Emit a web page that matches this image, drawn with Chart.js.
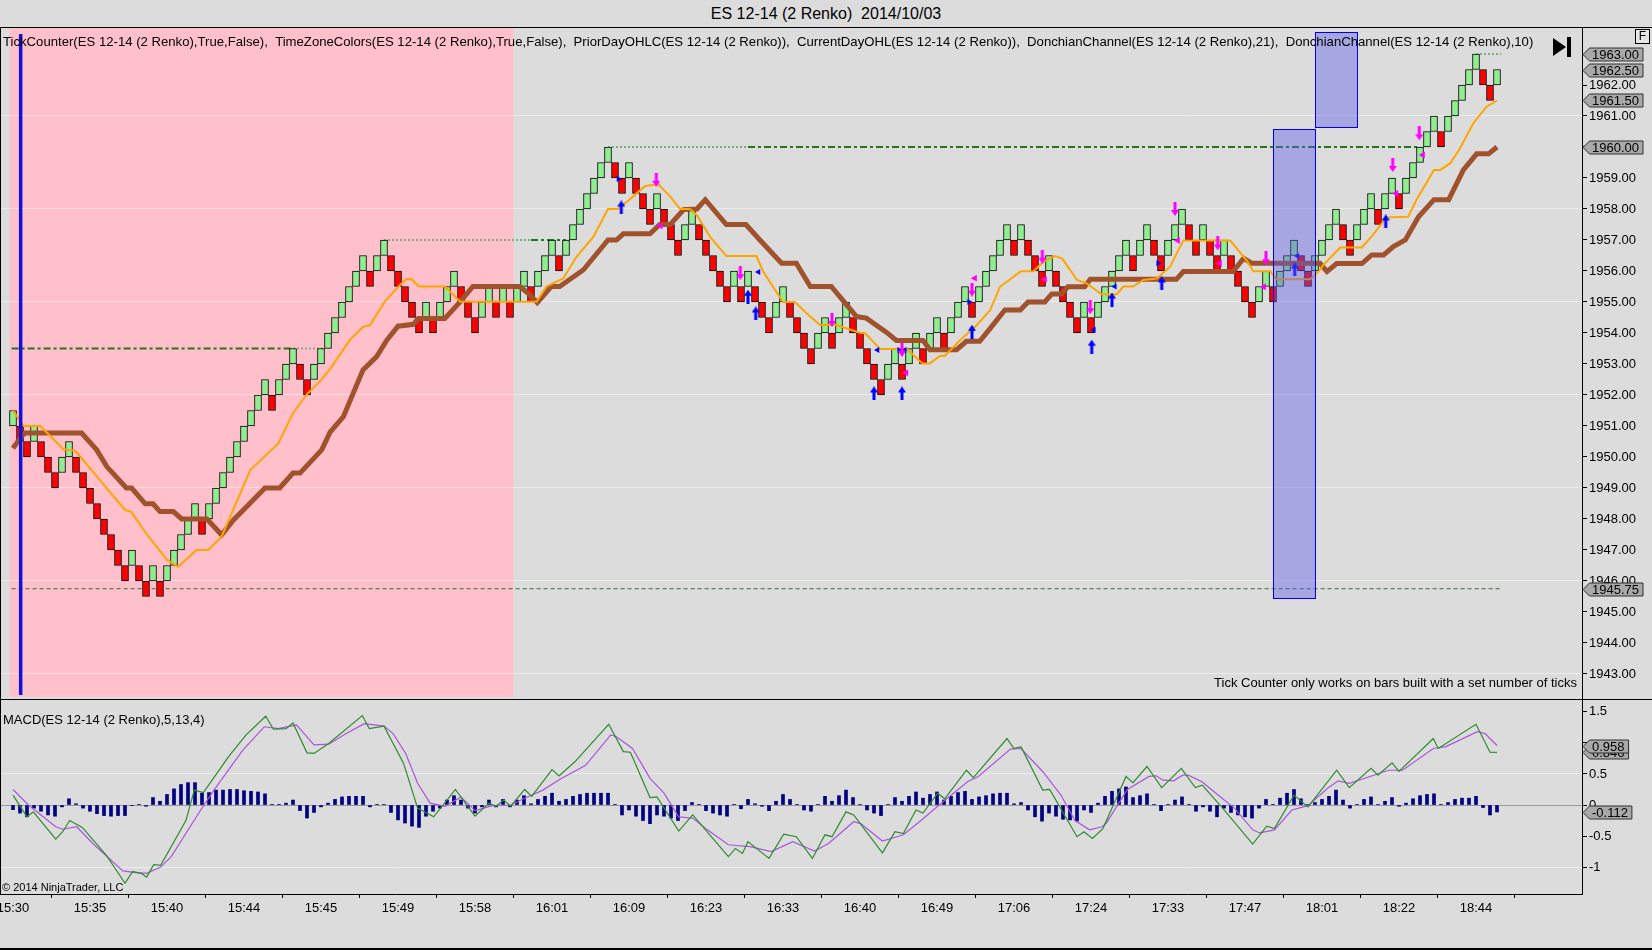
<!DOCTYPE html>
<html>
<head>
<meta charset="utf-8">
<script src="https://cdn.jsdelivr.net/npm/chart.js@4.4.1/dist/chart.umd.min.js"></script>
<style>
  body { margin: 0; background: #DCDCDC; width: 1652px; height: 950px; overflow: hidden; position: relative;
         font-family: 'Liberation Sans', Arial, sans-serif; }
  #title { position: absolute; left: 0; top: 0; width: 1652px; height: 27px; line-height: 27px;
           text-align: center; font-size: 16px; color: #000; }
  canvas { position: absolute; left: 0; }
</style>
</head>
<body>
<div id="title">ES 12-14 (2 Renko)&nbsp; 2014/10/03</div>
<canvas id="price" width="1652" height="673" style="top:27px"></canvas>
<canvas id="macd" width="1652" height="250" style="top:700px"></canvas>
<script>
// renko closes, one per bar (brick size 0.5)
const barCloses = [
  1951.5,1950.5,1950,1951,1950,1949.5,1949,1950,1950.5,1949.5,
  1949,1948.5,1948,1947.5,1947,1946.5,1946,1947,1946,1945.5,
  1946.5,1945.5,1946.5,1947,1947.5,1948,1948.5,1947.5,1948.5,1949,
  1949.5,1950,1950.5,1951,1951.5,1952,1952.5,1951.5,1952.5,1953,
  1953.5,1952.5,1952,1953,1953.5,1954,1954.5,1955,1955.5,1956,
  1956.5,1955.5,1956.5,1957,1956,1955.5,1955,1954.5,1954,1955,
  1954,1955,1955.5,1956,1955,1954.5,1954,1955,1955.5,1954.5,
  1955.5,1954.5,1955.5,1956,1955,1956,1956.5,1957,1956,1957,
  1957.5,1958,1958.5,1959,1959.5,1960,1959,1958.5,1959.5,1958.5,
  1958,1957.5,1958.5,1957.5,1957,1956.5,1957.5,1958,1957,1956.5,
  1956,1955.5,1955,1956,1955,1956,1955,1954.5,1954,1955,
  1955.5,1954.5,1954,1953.5,1953,1954,1954.5,1953.5,1954.5,1955,
  1954,1953.5,1953,1952.5,1952,1953,1953.5,1952.5,1953.5,1954,
  1953,1954,1954.5,1953.5,1954.5,1955,1955.5,1954.5,1955.5,1956,
  1956.5,1957,1957.5,1956.5,1957.5,1956.5,1956,1955.5,1956.5,1955.5,
  1955,1954.5,1954,1955,1954,1955,1955.5,1956,1956.5,1957,
  1956,1957,1957.5,1956.5,1956,1957,1957.5,1958,1957,1956.5,
  1957.5,1956.5,1956,1957,1956,1955.5,1955,1954.5,1955.5,1956,
  1955,1956,1956.5,1957,1956,1955.5,1956.5,1957,1957.5,1958,
  1957,1956.5,1957.5,1958,1958.5,1957.5,1958.5,1959,1958,1959,
  1959.5,1960,1960.5,1961,1960,1961,1961.5,1962,1962.5,1963,
  1962,1961.5,1962.5
];
const BRICK = 0.5;

// Donchian mid lines [bar, price]
const donchian10 = [
  [0,1951.5],[1.5,1951.0],[3.9,1951.0],[7.2,1950.25],[8.9,1950.2],[12.4,1949.26],[16,1948.29],[16.9,1948.23],
  [19,1947.54],[22,1946.68],[23.6,1946.46],[26.2,1947.0],[27.9,1947.0],[29.8,1947.43],[33.9,1949.58],[37.9,1950.44],
  [40,1951.41],[41.9,1952.0],[44,1952.48],[45.5,1952.9],[48.1,1953.77],[50,1954.2],[51,1954.25],[53.1,1955.01],
  [55.3,1955.55],[56.2,1955.74],[56.9,1955.74],[58,1955.5],[61.7,1955.5],[63.9,1955.01],[74.8,1955.01],[76.2,1955.5],
  [78.6,1955.76],[80.5,1956.46],[82.9,1957.1],[85,1958.0],[86.4,1958.0],[88,1958.29],[90.3,1958.74],[92.2,1958.8],
  [93.9,1958.4],[95.3,1958.0],[96.7,1958.0],[97.7,1957.8],[99.6,1957.1],[101.9,1956.48],[106.2,1956.48],[107.2,1955.97],
  [110,1955.0],[111.7,1955.0],[113.4,1954.63],[115.3,1954.26],[117.7,1954.26],[121,1954.0],[121.7,1954.0],[123.9,1953.48],
  [127.7,1953.48],[129.9,1953.02],[131,1953.02],[132.4,1953.26],[133.1,1953.26],[135.3,1953.77],[137.7,1954.26],[139.6,1954.74],
  [141,1955.49],[144,1955.99],[145.8,1955.99],[147.2,1956.3],[148.9,1956.48],[149.9,1956.4],[152,1955.71],[153.4,1955.6],
  [155.5,1955.25],[157.7,1955.25],[158.6,1955.5],[160,1955.5],[161.5,1955.71],[163.4,1955.76],[165.3,1956.14],[166.5,1956.68],
  [167.2,1956.98],[173.9,1956.98],[176.2,1956.35],[177.2,1955.99],[179.6,1955.99],[180.5,1955.73],[185.3,1955.73],[186.5,1955.98],
  [187.2,1956.2],[189.6,1956.76],[192.7,1956.76],[194.3,1957.17],[196.2,1957.73],[199.3,1957.75],[200.5,1958.3],[203,1959.26],
  [203.9,1959.26],[205.3,1959.47],[206.7,1959.95],[208.6,1960.76],[210.5,1961.3],[212,1961.5]
];
const donchian21 = [
  [0,1950.28],[1.2,1950.66],[1.7,1950.77],[9.8,1950.77],[11.95,1950.23],[13.4,1949.69],[16.2,1949.0],[16.95,1949.0],
  [18.9,1948.49],[20,1948.49],[21,1948.24],[22.9,1948.24],[24.1,1948.0],[27.7,1948.0],[29.8,1947.49],[31.5,1947.97],
  [36,1949.0],[38.1,1949.0],[40,1949.48],[41,1949.48],[44.1,1950.23],[45.3,1950.8],[47.2,1951.3],[50,1952.81],
  [51.95,1953.24],[53.4,1953.77],[55,1954.22],[57.2,1954.28],[57.9,1954.47],[61.7,1954.47],[63.9,1955.01],[65.7,1955.5],
  [72.4,1955.5],[73.6,1955.28],[74.9,1954.98],[76.9,1955.5],[78.1,1955.5],[81.5,1956.04],[85,1957.0],[86.2,1957.0],
  [87.2,1957.2],[91,1957.2],[92.4,1957.5],[93.9,1957.5],[95.8,1957.98],[97.7,1958.0],[98.9,1958.3],[101.9,1957.5],
  [104.7,1957.5],[106.7,1957.0],[109.8,1956.25],[111.9,1956.25],[113.9,1955.5],[116.9,1955.5],[120.5,1954.53],[121.9,1954.48],
  [124.8,1954.02],[126.2,1953.76],[130,1953.76],[131,1953.46],[134.8,1953.46],[136.2,1953.73],[138.1,1953.73],[139.6,1954.15],
  [141.7,1954.74],[143.9,1954.74],[145,1955.0],[147.4,1955.0],[148.4,1955.26],[149.8,1955.26],[150.7,1955.49],[153.1,1955.49],
  [153.9,1955.73],[166.2,1955.73],[167.2,1955.98],[174.3,1955.98],[175.8,1956.41],[176.95,1956.25],[186.7,1956.25],[187.7,1955.98],
  [189.1,1956.24],[192.7,1956.24],[194.1,1956.52],[195.8,1956.52],[197.2,1956.79],[198.9,1957.0],[200.8,1957.75],[203,1958.3],
  [205.1,1958.3],[207.2,1959.26],[209.1,1959.78],[210.8,1959.78],[212,1960.0]
];

// current day high / low segments [fromBar, toBar, price]
const dayHighDark = [[-0.2,40,1953.5],[74,79,1957],[105,201,1960]];
const dayHighLight = [[40,44.5,1953.5],[53,74,1957],[85,105,1960],[209,212.6,1963]];
const dayLow = [[-0.2,212.6,1945.75]];

// signal markers [bar, price]
const upArrows = [[86.9,1958.05],[105.0,1955.17],[106.1,1954.63],[123.0,1952.05],[127.0,1952.05],[137.0,1954.04],
  [154.1,1953.56],[157.0,1955.08],[164.1,1955.6],[183.1,1956.05],[196.1,1957.6]];
const downArrows = [[91.9,1958.94],[103.9,1955.93],[117.0,1954.42],[127.0,1953.45],[137.0,1955.4],[147.05,1956.46],
  [153.9,1954.83],[166.0,1958.0],[172.1,1956.89],[179.0,1956.41],[197.1,1959.42],[200.9,1960.44]];
const blueTriRight = [[86.5,1958.97],[126.6,1953.45],[136.6,1955.0],[163.6,1956.25]];
const blueTriLeft = [[106.5,1955.97],[123.5,1953.45],[127.4,1953.45],[154.4,1954.1],[157.4,1955.5],[183.5,1956.48]];
const magentaTri = [[92.5,1957.46],[127.6,1952.72],[137.4,1955.77],[147.4,1955.73],[166.4,1956.98],[172.4,1956.25],
  [178.7,1955.49],[197.6,1958.5],[201.4,1959.74]];

// tick counter boxes [fromBar, toBar, low, high]
const tickBoxes = [[180,186,1945.45,1960.57],[186,192,1960.64,1963.7]];
const sessionShade = [-0.5, 71.5];
const sessionLine = 1.06;

const priceTicks = [1943,1944,1945,1946,1947,1948,1949,1950,1951,1952,1953,1954,1955,1956,1957,1958,1959,1960,1961,1962,1963];
const priceGrid = [1943,1946,1949,1952,1955,1958,1961];
const priceFlags = [1963.00, 1962.50, 1961.50, 1960.00, 1945.75];

const timeTickBars = [0,11,22,33,44,55,66,77,88,99,110,121,132,143,154,165,176,187,198,209];
const timeLabels = ['15:30','15:35','15:40','15:44','15:45','15:49','15:58','16:01','16:09','16:23',
  '16:33','16:40','16:49','17:06','17:24','17:33','17:47','18:01','18:22','18:44'];

// MACD(5,13,4)
const macdLine = [
  [0,0.16],[2,-0.19],[2.9,-0.11],[6.1,-0.55],[7.1,-0.43],[8.1,-0.25],[9.9,-0.36],[13.4,-0.82],[16,-1.26],[17.1,-1.07],
  [18.3,-1.1],[19.1,-1.16],[20.1,-0.96],[21.1,-0.97],[24.7,-0.25],[25.9,0.24],[27.2,0.2],[30.8,0.78],[33.3,1.13],[36.1,1.43],
  [37.2,1.22],[39,1.23],[40,1.32],[42,0.84],[43,0.83],[45.1,0.99],[49.9,1.44],[50.9,1.23],[53,1.27],[55.8,0.67],
  [57.8,-0.05],[60.1,-0.19],[63.2,0.25],[66,-0.18],[68,0.03],[69,-0.02],[70.1,0.08],[71.1,-0.02],[73.1,0.25],[74.1,0.14],
  [77,0.57],[78,0.47],[80.3,0.7],[85.1,1.3],[87.2,0.86],[88.2,0.85],[91,0.12],[92,0.13],[95.1,-0.42],[97.1,-0.16],
  [102.2,-0.83],[103.2,-0.7],[104.2,-0.78],[105,-0.59],[108,-0.86],[110.1,-0.47],[111.9,-0.51],[114.2,-0.86],[116,-0.48],[117,-0.51],
  [119,-0.11],[120.1,-0.16],[124.2,-0.77],[126,-0.43],[127.2,-0.46],[129,-0.08],[130,-0.13],[132.1,0.19],[133.1,0.1],[136.2,0.56],
  [137.2,0.44],[142,1.07],[143,0.91],[144,0.94],[147.1,0.24],[148.1,0.25],[152,-0.51],[153,-0.43],[154.2,-0.54],[155.7,-0.38],
  [159,0.46],[160,0.36],[162,0.62],[164.1,0.28],[166.9,0.59],[168.9,0.28],[169.9,0.32],[172.8,-0.05],[177.1,-0.63],[179.1,-0.34],
  [180.2,-0.38],[183,0.16],[185,-0.03],[189.1,0.56],[190.9,0.28],[194,0.59],[195,0.48],[197,0.68],[198,0.54],[202.9,1.07],
  [203.6,0.91],[209,1.3],[211,0.85],[212,0.846]
];
const macdAvg = [
  [0,0.25],[2.2,0.0],[6.1,-0.35],[7.1,-0.39],[9.1,-0.35],[11.4,-0.62],[15.7,-1.06],[17.5,-1.09],[19.1,-1.1],[21.1,-1.0],
  [22.6,-0.83],[26.7,-0.1],[28.7,0.24],[32.8,0.88],[35.9,1.26],[37.9,1.23],[40.5,1.29],[43,0.97],[45.1,0.98],[47.6,1.15],
  [50.2,1.31],[53,1.27],[54.3,1.15],[56.1,0.83],[57.8,0.35],[59.6,0.03],[61.7,-0.02],[64,0.13],[66,-0.09],[68.5,-0.01],
  [71.1,0.0],[73.1,0.11],[75.7,0.24],[78.2,0.42],[81.8,0.64],[85.4,1.13],[86.2,1.1],[88.5,0.91],[91,0.43],[93,0.19],
  [95.1,-0.19],[97.1,-0.21],[99.2,-0.4],[102.2,-0.64],[105.3,-0.67],[108.3,-0.75],[111.4,-0.59],[114.5,-0.74],[116.5,-0.62],[120.1,-0.27],
  [121.1,-0.3],[124.2,-0.58],[127.2,-0.48],[129.8,-0.24],[132.3,0.0],[136.4,0.38],[137.9,0.46],[142.5,0.9],[144,0.91],[147.1,0.54],
  [149.7,0.16],[151.7,-0.25],[153.8,-0.4],[155.6,-0.35],[156.2,-0.29],[159.2,0.25],[162.3,0.46],[163.3,0.47],[164.3,0.4],[165.8,0.39],
  [167.1,0.48],[167.9,0.48],[169.9,0.37],[172.5,0.13],[174.5,-0.05],[177.1,-0.4],[178.1,-0.45],[180.2,-0.4],[182.7,-0.08],[185,-0.01],
  [187.8,0.27],[189.3,0.39],[190.9,0.35],[194.4,0.48],[196.5,0.56],[198.5,0.56],[202.9,0.91],[204.7,0.94],[209.2,1.18],[210.3,1.15],
  [212,0.958]
];
const macdHist = [
  -0.075,-0.13,-0.19,-0.05,-0.1,-0.16,-0.18,-0.03,0.1,0.02,
  -0.05,-0.1,-0.14,-0.17,-0.18,-0.17,-0.17,-0.01,0.01,-0.02,
  0.12,0.06,0.17,0.26,0.33,0.36,0.36,0.19,0.2,0.24,
  0.24,0.25,0.25,0.23,0.22,0.21,0.18,0.01,0.01,0.03,
  0.08,-0.09,-0.21,-0.12,-0.03,0.03,0.09,0.13,0.14,0.14,
  0.14,-0.03,0.01,0.01,-0.12,-0.24,-0.29,-0.34,-0.36,-0.18,
  -0.1,-0.05,0.08,0.15,0.08,-0.05,-0.13,-0.03,0.08,-0.03,
  0.09,-0.03,0.08,0.15,0.02,0.09,0.14,0.19,0.06,0.09,
  0.14,0.17,0.19,0.19,0.19,0.19,0.01,-0.16,-0.08,-0.18,
  -0.25,-0.3,-0.16,-0.18,-0.21,-0.25,-0.09,0.04,0.01,-0.09,
  -0.13,-0.16,-0.18,0.01,-0.06,0.09,0.02,-0.02,-0.09,0.06,
  0.17,0.09,0.01,-0.08,-0.1,0.01,0.14,0.06,0.15,0.24,
  0.12,0.01,-0.08,-0.13,-0.17,0.01,0.12,0.06,0.14,0.21,
  0.11,0.17,0.21,0.08,0.14,0.2,0.22,0.09,0.13,0.15,
  0.18,0.19,0.19,0.02,0.04,-0.08,-0.19,-0.26,-0.13,-0.18,
  -0.23,-0.24,-0.26,-0.08,-0.12,0.03,0.14,0.22,0.26,0.29,
  0.12,0.15,0.18,0.01,-0.09,0.01,0.08,0.13,0.01,-0.1,
  -0.03,-0.1,-0.19,-0.05,-0.12,-0.16,-0.19,-0.21,-0.05,0.09,
  0.01,0.11,0.19,0.25,0.1,0.01,0.04,0.09,0.14,0.24,
  0.08,-0.05,0.01,0.09,0.13,0.01,0.06,0.12,-0.02,0.03,
  0.1,0.15,0.17,0.18,0.01,0.04,0.09,0.11,0.11,0.14,
  -0.04,-0.16,-0.112
];
const macdTicks = [-1,-0.5,0,0.5,1,1.5];
const macdGrid = [-1, 0.5];

const FONT = "'Liberation Sans', Arial, sans-serif";
Chart.defaults.font.family = FONT;
Chart.defaults.font.size = 13;
Chart.defaults.color = '#000';
Chart.defaults.animation = false;

const X_MIN = -13 / 7, X_MAX = 1569 / 7;
const AXIS_W = 70;
const pts = arr => arr.map(([x, y]) => ({ x, y }));

// no label padding: the plot area must fill the panel exactly
function noPad(s) {
  s.paddingTop = 0; s.paddingBottom = 0; s.paddingLeft = 0; s.paddingRight = 0;
}

function arrowImg(color, down) {
  const c = document.createElement('canvas');
  c.width = 8; c.height = 14;
  const g = c.getContext('2d');
  g.fillStyle = color;
  g.beginPath();
  if (down) { g.moveTo(4, 14); g.lineTo(8, 8); g.lineTo(0, 8); }
  else { g.moveTo(4, 0); g.lineTo(8, 6); g.lineTo(0, 6); }
  g.closePath(); g.fill();
  g.fillRect(2.5, down ? 0 : 6, 3, 8);
  return c;
}

function flag(ctx, x0, y, text) {
  ctx.font = '13px ' + FONT;
  const w = ctx.measureText(text).width + 6;
  ctx.beginPath();
  ctx.moveTo(x0 + 1, y);
  ctx.lineTo(x0 + 7.5, y - 6.5);
  ctx.lineTo(x0 + 8 + w, y - 6.5);
  ctx.lineTo(x0 + 8 + w, y + 6.5);
  ctx.lineTo(x0 + 7.5, y + 6.5);
  ctx.closePath();
  ctx.fillStyle = '#A9A9A9'; ctx.fill();
  ctx.strokeStyle = '#303030'; ctx.lineWidth = 1; ctx.stroke();
  ctx.fillStyle = '#000'; ctx.textAlign = 'left'; ctx.textBaseline = 'middle';
  ctx.fillText(text, x0 + 10, y + 0.5);
}

function segSets(segs, color, width, dash, order) {
  return segs.map(([a, b, v]) => ({
    type: 'line', data: [{ x: a, y: v }, { x: b, y: v }], borderColor: color, borderWidth: width,
    borderDash: dash, pointRadius: 0, order
  }));
}

const pricePanel = {
  id: 'pricePanel',
  beforeDraw(chart) {
    const { ctx, chartArea: a, scales: { x } } = chart;
    ctx.save();
    ctx.fillStyle = '#DCDCDC';
    ctx.fillRect(0, 0, chart.width, chart.height);
    const x0 = x.getPixelForValue(sessionShade[0]), x1 = x.getPixelForValue(sessionShade[1]);
    ctx.fillStyle = '#FFC0CB';
    ctx.fillRect(x0, a.top + 1, x1 - x0, a.bottom - a.top - 4);
    ctx.restore();
  },
  afterDatasetsDraw(chart) {
    const { ctx, chartArea: a, scales: { x, y } } = chart;
    ctx.save();
    tickBoxes.forEach(([b0, b1, lo, hi]) => {
      const l = x.getPixelForValue(b0), r = x.getPixelForValue(b1);
      const t = y.getPixelForValue(hi), btm = y.getPixelForValue(lo);
      ctx.fillStyle = 'rgba(90,90,235,0.42)';
      ctx.fillRect(l, t, r - l, btm - t);
      ctx.strokeStyle = '#0000EE'; ctx.lineWidth = 1;
      ctx.strokeRect(Math.round(l) + 0.5, Math.round(t) + 0.5, Math.round(r - l), Math.round(btm - t));
    });
    ctx.fillStyle = '#1010E0';
    ctx.fillRect(x.getPixelForValue(sessionLine) - 1.5, a.top + 7, 3.5, a.bottom - a.top - 12);
    ctx.restore();
  },
  afterDraw(chart) {
    const { ctx, chartArea: a, scales: { y } } = chart;
    ctx.save();
    ctx.font = '13.15px ' + FONT;
    ctx.fillStyle = '#000';
    ctx.textBaseline = 'middle';
    ctx.textAlign = 'left';
    ctx.fillText('TickCounter(ES 12-14 (2 Renko),True,False),  TimeZoneColors(ES 12-14 (2 Renko),True,False),  PriorDayOHLC(ES 12-14 (2 Renko)),  CurrentDayOHL(ES 12-14 (2 Renko)),  DonchianChannel(ES 12-14 (2 Renko),21),  DonchianChannel(ES 12-14 (2 Renko),10)', 3, 15);
    ctx.font = '13px ' + FONT;
    ctx.textAlign = 'right';
    ctx.fillText('Tick Counter only works on bars built with a set number of ticks', a.right - 5, 656);
    // play-to-end icon
    ctx.beginPath();
    ctx.moveTo(1553, 11); ctx.lineTo(1553, 29); ctx.lineTo(1566, 20); ctx.closePath(); ctx.fill();
    ctx.fillRect(1567, 10, 4, 20);
    // F button
    ctx.fillStyle = '#E6E6E6'; ctx.fillRect(1635.5, 2.5, 14, 14);
    ctx.strokeStyle = '#000'; ctx.lineWidth = 1; ctx.strokeRect(1635.5, 2.5, 14, 14);
    ctx.fillStyle = '#000'; ctx.textAlign = 'center'; ctx.font = '12px ' + FONT;
    ctx.fillText('F', 1642.5, 10);
    // frame
    ctx.fillStyle = '#000';
    ctx.fillRect(0, 0, chart.width, 1);
    ctx.fillRect(0, 0, 1, chart.height);
    ctx.fillRect(0, chart.height - 1, chart.width, 1);
    priceFlags.forEach(v => flag(ctx, a.right, Math.round(y.getPixelForValue(v)) + 0.5, v.toFixed(2)));
    ctx.restore();
  }
};

const bricks = barCloses.map((c, i) => {
  const up = i === 0 || c > barCloses[i - 1];
  return { x: i, y: up ? [c - BRICK, c] : [c, c + BRICK], up };
});

new Chart(document.getElementById('price'), {
  type: 'bar',
  data: {
    datasets: [
      { type: 'line', data: pts(upArrows), showLine: false, pointStyle: arrowImg('#0000FF', false), order: 0 },
      { type: 'line', data: pts(downArrows), showLine: false, pointStyle: arrowImg('#FF00FF', true), order: 0 },
      { type: 'line', data: pts(blueTriRight), showLine: false, pointStyle: 'triangle', rotation: 90, pointRadius: 3.5,
        backgroundColor: '#0000FF', borderColor: '#0000FF', borderWidth: 0, order: 1 },
      { type: 'line', data: pts(blueTriLeft), showLine: false, pointStyle: 'triangle', rotation: -90, pointRadius: 3.5,
        backgroundColor: '#0000FF', borderColor: '#0000FF', borderWidth: 0, order: 1 },
      { type: 'line', data: pts(magentaTri), showLine: false, pointStyle: 'triangle', rotation: -90, pointRadius: 4,
        backgroundColor: '#FF00FF', borderColor: '#FF00FF', borderWidth: 0, order: 1 },
      { type: 'line', data: pts(donchian10), borderColor: '#FFA500', borderWidth: 2, pointRadius: 0, order: 3 },
      { type: 'line', data: pts(donchian21), borderColor: '#A0522D', borderWidth: 5, pointRadius: 0, order: 4 },
      { type: 'bar', data: bricks, barThickness: 7, borderWidth: 1, borderColor: '#000', borderSkipped: false,
        backgroundColor: bricks.map(b => b.up ? '#90EE90' : '#FF0000'), order: 6 },
      ...segSets(dayHighDark, '#217821', 2, [7, 3, 3, 3], 8),
      ...segSets(dayHighLight, '#7DAF7D', 2, [2, 2], 8),
      ...segSets(dayLow, '#2F6F2F', 1, [4, 3], 8)
    ]
  },
  options: {
    responsive: false, devicePixelRatio: 1, events: [],
    layout: { padding: 0, autoPadding: false },
    plugins: { legend: { display: false }, tooltip: { enabled: false } },
    scales: {
      x: { type: 'linear', min: X_MIN, max: X_MAX, offset: false, display: false, afterFit: noPad },
      y: {
        type: 'linear', position: 'right', min: 1942.161, max: 1963.871,
        afterBuildTicks: s => { s.ticks = priceTicks.map(v => ({ value: v })); },
        afterFit: s => { s.width = AXIS_W; noPad(s); },
        ticks: { callback: v => Number(v).toFixed(2), padding: 2, color: '#000', font: { size: 13 } },
        grid: {
          color: c => (c.tick && priceGrid.includes(c.tick.value)) ? 'rgba(255,255,255,0.45)' : 'rgba(0,0,0,0)',
          tickColor: '#000', tickLength: 5, drawTicks: true
        },
        border: { display: true, color: '#000' }
      }
    }
  },
  plugins: [pricePanel]
});

const lastLine = macdLine[macdLine.length - 1][1];
const lastAvg = macdAvg[macdAvg.length - 1][1];
const lastHist = macdHist[macdHist.length - 1];
const macdFlags = [lastLine, lastAvg, lastHist];

const macdPanel = {
  id: 'macdPanel',
  beforeDraw(chart) {
    const { ctx } = chart;
    ctx.save();
    ctx.fillStyle = '#DCDCDC';
    ctx.fillRect(0, 0, chart.width, chart.height);
    ctx.restore();
  },
  afterDraw(chart) {
    const { ctx, chartArea: a, scales: { y } } = chart;
    ctx.save();
    ctx.fillStyle = '#000';
    ctx.font = '13px ' + FONT;
    ctx.textAlign = 'left'; ctx.textBaseline = 'middle';
    ctx.fillText('MACD(ES 12-14 (2 Renko),5,13,4)', 3, 20);
    ctx.font = '11px ' + FONT;
    ctx.fillText('\u00A9 2014 NinjaTrader, LLC', 2, 188);
    ctx.fillRect(0, 0, 1, a.bottom);
    ctx.fillRect(0, chart.height - 2, chart.width, 2);
    macdFlags.forEach(v => flag(ctx, a.right, Math.round(y.getPixelForValue(v)) + 0.5, v.toFixed(3)));
    ctx.restore();
  }
};

new Chart(document.getElementById('macd'), {
  type: 'bar',
  data: {
    datasets: [
      { type: 'line', data: pts(macdLine), borderColor: '#2E8B2E', borderWidth: 1.2, pointRadius: 0, order: 1 },
      { type: 'line', data: pts(macdAvg), borderColor: '#AA55DD', borderWidth: 1.2, pointRadius: 0, order: 2 },
      { type: 'bar', data: macdHist.map((v, i) => ({ x: i, y: v })), barThickness: 3, backgroundColor: '#000080',
        borderWidth: 0, order: 3 }
    ]
  },
  options: {
    responsive: false, devicePixelRatio: 1, events: [],
    layout: { padding: 0, autoPadding: false },
    plugins: { legend: { display: false }, tooltip: { enabled: false } },
    scales: {
      x: {
        type: 'linear', min: X_MIN, max: X_MAX, offset: false, position: 'bottom',
        afterBuildTicks: s => { s.ticks = timeTickBars.map(v => ({ value: v })); },
        afterFit: s => { s.height = 56; noPad(s); },
        ticks: { autoSkip: false, maxRotation: 0, padding: 3, color: '#000', font: { size: 13 },
                 callback: (v, i) => timeLabels[i] },
        grid: { drawOnChartArea: false, drawTicks: true, tickLength: 4, color: '#000' },
        border: { display: true, color: '#000' }
      },
      y: {
        type: 'linear', position: 'right', min: -1.433, max: 1.691,
        afterBuildTicks: s => { s.ticks = macdTicks.map(v => ({ value: v })); },
        afterFit: s => { s.width = AXIS_W; noPad(s); },
        // a label sitting under a value flag is left out, as the platform does
        ticks: { callback: v => macdFlags.some(f => Math.abs(f - v) < 0.1) ? '' : String(v),
                 padding: 2, color: '#000', font: { size: 13 } },
        grid: {
          color: c => {
            if (!c.tick) return 'rgba(0,0,0,0)';
            if (c.tick.value === 0) return '#9A9A9A';
            return macdGrid.includes(c.tick.value) ? 'rgba(255,255,255,0.45)' : 'rgba(0,0,0,0)';
          },
          tickColor: '#000', tickLength: 5, drawTicks: true
        },
        border: { display: true, color: '#000' }
      }
    }
  },
  plugins: [macdPanel]
});
</script>
</body>
</html>
